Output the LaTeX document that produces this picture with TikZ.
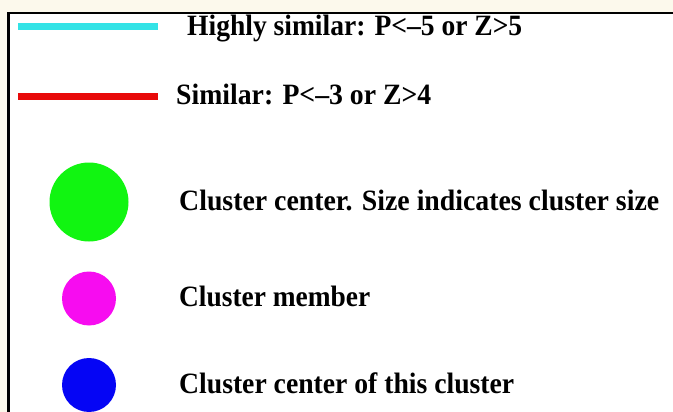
\documentclass[tikz,border=0pt]{standalone}
\usepackage{fontspec}
\setmainfont{Liberation Serif}
\usepackage{graphicx}
\definecolor{cream}{HTML}{FCF9EC}
\definecolor{hicyan}{HTML}{33E3E6}
\definecolor{simred}{HTML}{E80A0A}
\definecolor{cgreen}{HTML}{11F511}
\definecolor{cmag}{HTML}{F70CF0}
\definecolor{cblue}{HTML}{0505F5}
\tikzset{
  legtext/.style={anchor=base west, inner sep=0pt, font=\fontsize{29.5}{31}\selectfont\bfseries},
  legline/.style={line width=7pt},
  dot/.style={circle, inner sep=0pt, draw=none}
}
\newcommand{\fitw}[2]{\resizebox{#1}{\height}{#2}}
\begin{document}
\begin{tikzpicture}[x=1pt,y=-1pt]
\useasboundingbox (0,0) rectangle (673,412);
\fill[cream] (0,0) rectangle (673,412);
\fill[white] (8.7,13) rectangle (673,412);
\draw[line width=2.5pt] (8.7,412) -- (8.7,13) -- (673,13);
% lines
\coordinate (c1) at (18,27);
\coordinate (c2) at (158,27);
\coordinate (r1) at (18,96.5);
\coordinate (r2) at (158,96.5);
\draw[legline, hicyan] (c1) -- (c2);
\draw[legline, simred] (r1) -- (r2);
% dots
\node[dot, fill=cgreen, minimum size=79pt] (g) at (89,202) {};
\node[dot, fill=cmag, minimum size=54pt] (m) at (89,298.5) {};
\node[dot, fill=cblue, minimum size=54pt] (b) at (89,385) {};
% texts
\node[legtext] (t1) at (187,35.5) {\fitw{335pt}{Highly similar: P<–5 or Z>5}};
\node[legtext] (t2) at (176,104.5) {\fitw{255pt}{Similar: P<–3 or Z>4}};
\node[legtext] (t3) at (179,210) {\fitw{480pt}{Cluster center. Size indicates cluster size}};
\node[legtext] (t4) at (179,306.5) {\fitw{191pt}{Cluster member}};
\node[legtext] (t5) at (179,393) {\fitw{335pt}{Cluster center of this cluster}};
\end{tikzpicture}
\end{document}
